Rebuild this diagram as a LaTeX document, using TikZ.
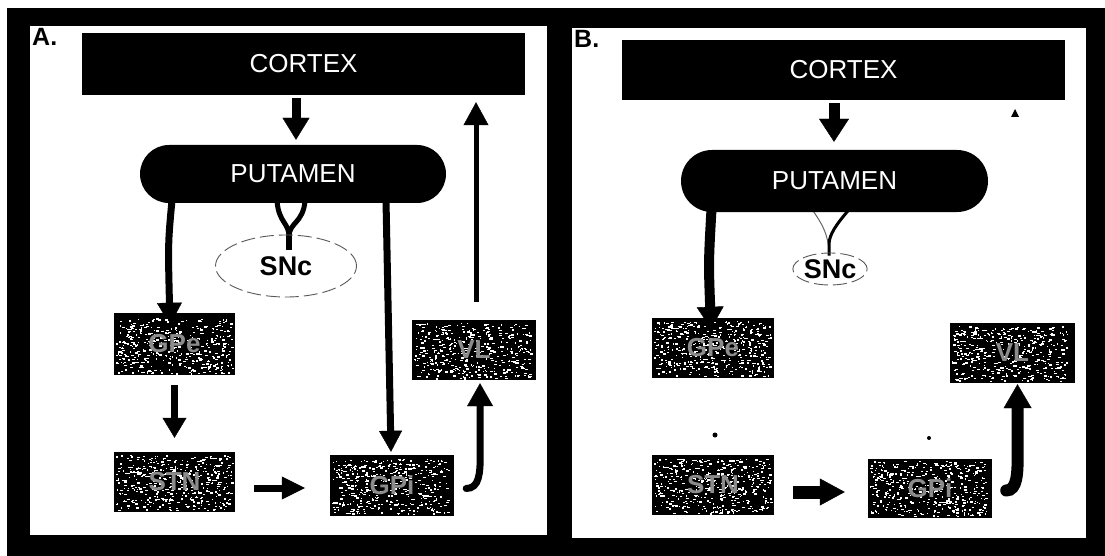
\documentclass[tikz,border=0pt]{standalone}
\usepackage{fontspec}
\setmainfont{Liberation Sans}
\usetikzlibrary{arrows.meta,shapes.geometric,calc}
\pgfdeclarelayer{back}
\pgfdeclarelayer{conn}
\pgfsetlayers{back,conn,main}
\begin{document}
\begin{tikzpicture}[x=1pt,y=-1pt,
  bigbox/.style={fill=black,inner sep=0,minimum width=443pt,text=white,font=\fontsize{26}{28}\selectfont},
  putbox/.style={fill=black,inner sep=0,minimum width=306pt,text=white,font=\fontsize{26}{28}\selectfont},
  snbox/.style={ellipse,draw=black!65,line width=0.9pt,dash pattern=on 14pt off 5pt,inner sep=0,font=\bfseries\fontsize{27}{28}\selectfont},
  speck/.style={fill=black,inner sep=0,text=black!45,font=\bfseries\fontsize{26}{28}\selectfont,
    path picture={
      \foreach \k in {1,...,420}{
        \fill[white] ($(path picture bounding box.south west)+({2pt+rnd*116pt},{2pt+rnd*55pt})$) rectangle ++({0.8+rnd*2.4},{0.7+rnd*1.1});
      }}},
  panlab/.style={anchor=west,inner sep=0,font=\bfseries\fontsize{25}{26}\selectfont},
  tip/.style args={#1/#2}{-{Triangle[width=#1pt,length=#2pt,line width=0.4pt]}},
  fork/.style={line width=5pt}
]
\pgfmathsetseed{4242}
\useasboundingbox (0,0) rectangle (1105,556);
\begin{pgfonlayer}{back}
  \fill[white] (0,0) rectangle (1105,556);
  \fill[black] (7,8) rectangle (1105,556);
  \fill[white] (30,26) rectangle (547,535);
  \fill[white] (572,28) rectangle (1086,538);
\end{pgfonlayer}

% ---------- Panel A ----------
\node[panlab] (labA) at (32,37) {A.};
\node[bigbox,minimum height=62pt] (cortexA) at (303.5,64) {CORTEX};
\node[putbox,minimum height=58pt,rounded corners=29pt] (putA) at (293,174) {PUTAMEN};
\node[snbox,minimum width=141pt,minimum height=62pt] (snA) at (286,266) {SNc};
\node[speck,minimum width=121pt,minimum height=62pt] (gpeA) at (174.5,344) {GPe};
\node[speck,minimum width=121pt,minimum height=60pt] (stnA) at (174.5,482) {STN};
\node[speck,minimum width=124pt,minimum height=61pt] (gpiA) at (392,485.5) {GPi};
\node[speck,minimum width=124pt,minimum height=60pt] (vlA) at (474,350) {VL};

\begin{pgfonlayer}{conn}
  \draw[line width=9pt,tip=27/22] ($(cortexA.south)+(-7.5,3)$) -- ($(putA.north)+(3,-5)$);
  \draw[line width=7pt,tip=25/22] ($(putA.south)+(-121,-3)$) .. controls ($(putA.south)+(-125,40)$) .. ($(gpeA.north)+(-4.5,12)$);
  \draw[line width=7pt,tip=23/21] ($(putA.south)+(93,-3)$) -- ($(gpiA.north)+(-1,-3)$);
  \draw[line width=7pt,tip=24/20] ($(gpeA.south)+(0,10)$) -- ($(stnA.north)+(0,-14)$);
  \draw[line width=7pt,tip=23/23] ($(stnA.east)+(19,6)$) -- ($(gpiA.west)+(-25,2.5)$);
  \draw[line width=7pt,line cap=round,tip=26/23] ($(gpiA.east)+(12,3)$) .. controls ($(gpiA.east)+(25,3)$) and ($(gpiA.east)+(26,-12)$) .. ($(gpiA.east)+(26,-30)$) -- ($(vlA.south)+(6,3)$);
  \draw[line width=5pt,tip=25/23] ($(vlA.north)+(2,-18)$) -- ($(vlA.north |- cortexA.south)+(2,7)$);
  \draw[fork] ($(putA.south)+(-16,-2)$) .. controls ($(putA.south)+(-14,20)$) and ($(snA.north)+(3,-12)$) .. ($(snA.north)+(3,2)$);
  \draw[fork] ($(putA.south)+(12,-2)$) .. controls ($(putA.south)+(10,20)$) and ($(snA.north)+(3,-12)$) .. ($(snA.north)+(3,2)$);
  \draw[line width=6pt] ($(snA.north)+(3,0)$) -- ($(snA.north)+(3,15)$);
\end{pgfonlayer}

% ---------- Panel B ----------
\node[panlab] (labB) at (574,39) {B.};
\node[bigbox,minimum height=60pt] (cortexB) at (843.5,70) {CORTEX};
\node[putbox,minimum width=307pt,minimum height=62pt,rounded corners=31pt] (putB) at (834.5,181) {PUTAMEN};
\node[snbox,minimum width=70pt,minimum height=32pt] (snB) at (830,269) {SNc};
\node[speck,minimum width=122pt,minimum height=60pt] (gpeB) at (713,348) {GPe};
\node[speck,minimum width=122pt,minimum height=60pt] (stnB) at (713,485) {STN};
\node[speck,minimum width=124pt,minimum height=59pt] (gpiB) at (930,488.5) {GPi};
\node[speck,minimum width=125pt,minimum height=60pt] (vlB) at (1012.5,353) {VL};

\begin{pgfonlayer}{conn}
  \draw[line width=11pt,tip=30/23] ($(cortexB.south)+(-9.5,3)$) -- ($(putB.north)+(-0.5,-8)$);
  \draw[line width=10pt,tip=27/22] ($(putB.south)+(-123,-3)$) .. controls ($(putB.south)+(-126,50)$) .. ($(gpeB.north)+(-2,11)$);
  \draw[line width=13pt,tip=27/25] ($(stnB.east)+(19,7)$) -- ($(gpiB.west)+(-23,3.5)$);
  \draw[line width=12pt,line cap=round,tip=28/24] ($(gpiB.east)+(14,2)$) .. controls ($(gpiB.east)+(25,2)$) and ($(gpiB.east)+(25.5,-15)$) .. ($(gpiB.east)+(25.5,-35)$) -- ($(vlB.south)+(5,1)$);
  \draw[line width=1pt,black!60] ($(putB.south)+(-22,-2)$) .. controls ($(putB.south)+(-12,12)$) and ($(snB.north)+(-2,-18)$) .. ($(snB.north)+(-1,-1)$);
  \draw[line width=3pt] ($(putB.south)+(14,-2)$) .. controls ($(putB.south)+(2,12)$) and ($(snB.north)+(-1,-18)$) .. ($(snB.north)+(-1,-8)$) -- ($(snB.north)+(-1,3)$);
\end{pgfonlayer}
\fill (1011,117) -- (1019,117) -- (1015,109) -- cycle;
\fill (715,435) circle (2.5);
\fill (929,438) circle (2);
\end{tikzpicture}
\end{document}
